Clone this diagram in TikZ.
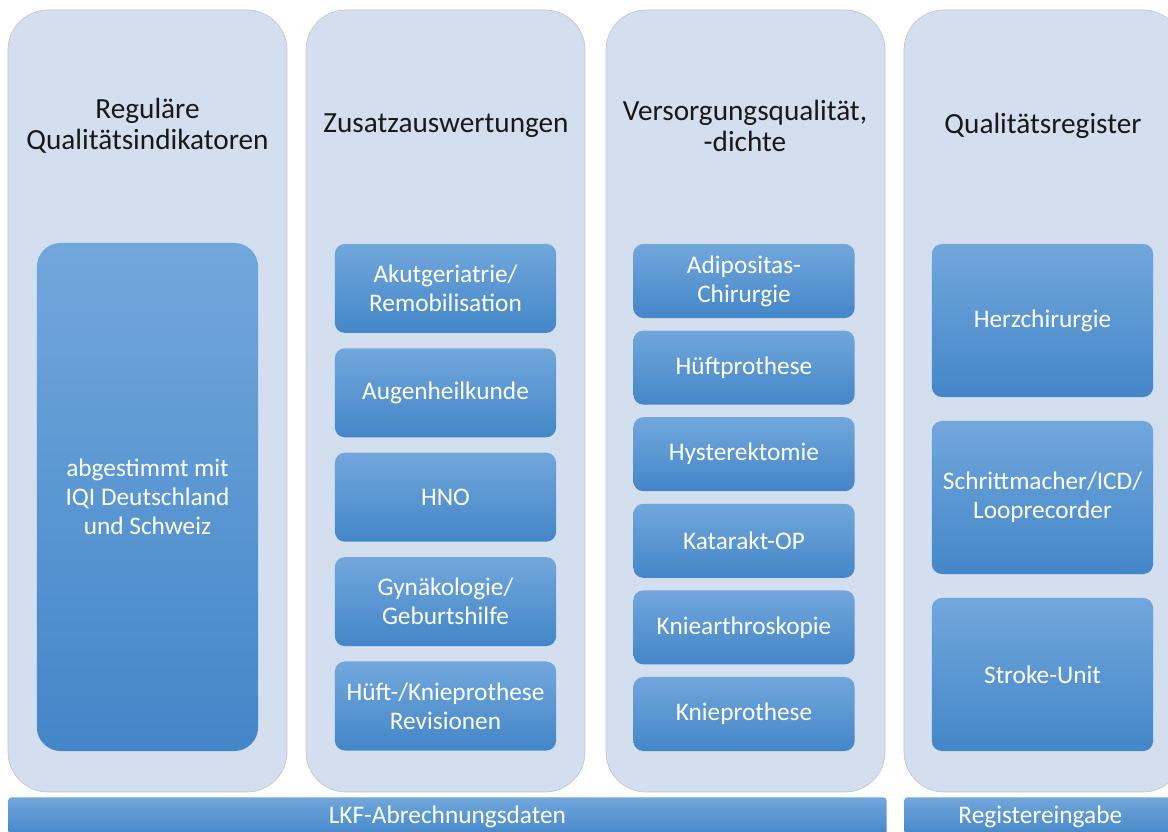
\documentclass[tikz,border=0pt]{standalone}
\usepackage{fontspec}
\setmainfont{Carlito}
\usepackage{xcolor}
\usetikzlibrary{positioning}

\definecolor{colbg}{RGB}{211,222,239}
\definecolor{boxtop}{RGB}{114,167,220}
\definecolor{boxbot}{RGB}{67,134,200}

\tikzset{
  column/.style={draw=black!22, line width=0.5pt, fill=colbg, rounded corners=1cm},
  title/.style={align=center, text=black!90, font=\fontsize{20.8}{22.3}\selectfont},
  item/.style={top color=boxtop, bottom color=boxbot, rounded corners=0.25cm,
    text=white, align=center, inner sep=0pt, minimum width=5.53cm,
    font=\fontsize{18}{20.6}\selectfont},
  bar/.style={top color=boxtop, bottom color=boxbot, rounded corners=0.08cm,
    text=white, inner sep=0pt, minimum height=0.975cm, anchor=north west,
    font=\fontsize{18}{20}\selectfont}
}

\begin{document}
\begin{tikzpicture}[x=0.025cm, y=-0.025cm]

\useasboundingbox (0,0) rectangle (1168,832);
\clip (0,0) rectangle (1168,832);

% Columns
\foreach \x [count=\c] in {8,306,606,904}
  \path [column] (\x,10) rectangle ++(279,782);

% Column titles
\node [title] (title-1) at (147.5,126) {Reguläre\\Qualitätsindikatoren};
\node [title] (title-2) at (446,126) {Zusatzauswertungen};
\node [title] (title-3) at (745,126) {Versorgungsqualität,\\-dichte};
\node [title] (title-4) at (1043,126) {Qualitätsregister};

% Regular indicators
\node [item, minimum height=12.7cm, rounded corners=0.6cm] (regular) at (147.5,497)
  {abgestimmt mit\\IQI Deutschland\\und Schweiz};

% Additional evaluations
\foreach \t [count=\y] in {{Akutgeriatrie/\\Remobilisation}, Augenheilkunde, HNO,
    {Gynäkologie/\\Geburtshilfe}, {Hüft-/Knieprothese\\Revisionen}}
  \node [item, minimum height=2.225cm] (zusatz-\y) at (445.5,184+104.4*\y) {\t};

% Quality of care
\foreach \t [count=\y] in {{Adipositas-\\Chirurgie}, Hüftprothese, Hysterektomie,
    Katarakt-OP, Kniearthroskopie, Knieprothese}
  \node [item, minimum height=1.85cm] (versorgung-\y) at (744,194.4+86.6*\y) {\t};

% Registers
\foreach \t [count=\y] in {Herzchirurgie, {Schrittmacher/ICD/\\Looprecorder}, Stroke-Unit}
  \node [item, minimum height=3.825cm] (register-\y) at (1042.5,143.5+177*\y) {\t};

% Data sources
\node [bar, minimum width=21.95cm] (lkf) at (8,797) {LKF-Abrechnungsdaten};
\node [bar, minimum width=6.8cm] (eingabe) at (904,797) {Registereingabe};

\end{tikzpicture}
\end{document}
